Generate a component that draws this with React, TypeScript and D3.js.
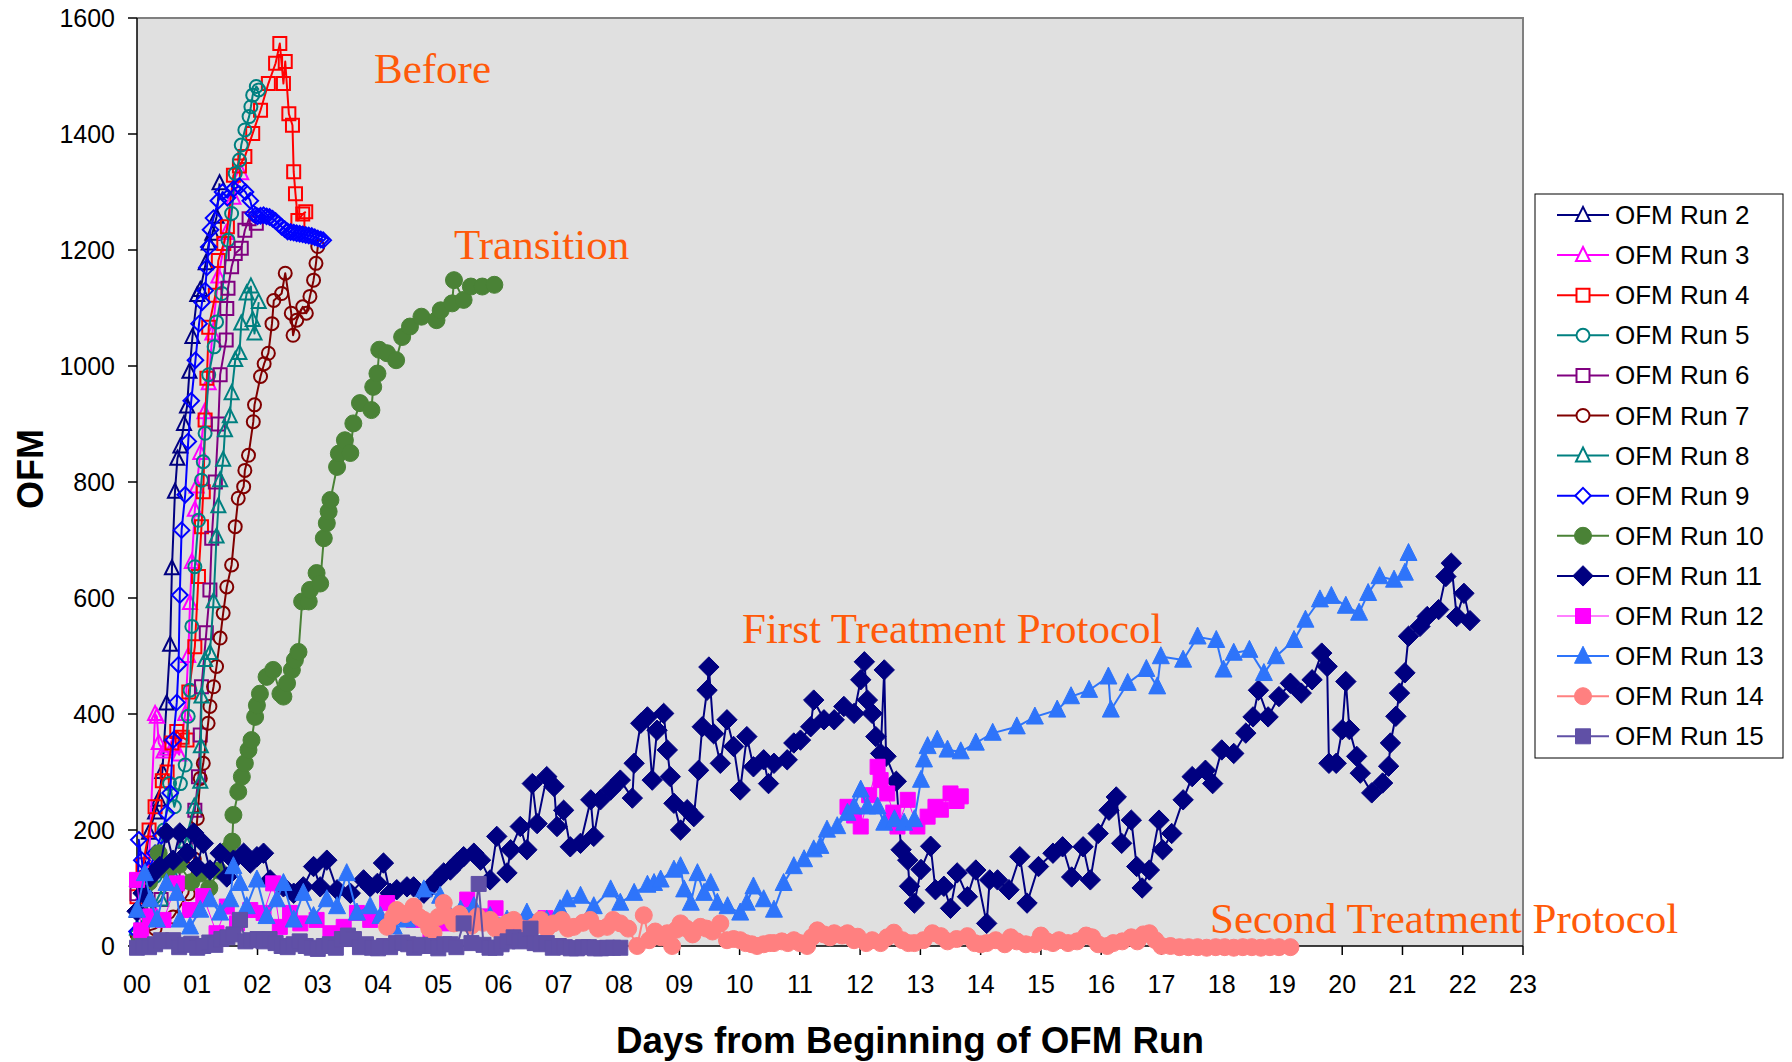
import * as d3 from "d3";
import React, { useEffect, useRef } from "react";

type Pt = [number, number];

const dayLabels = ["00","01","02","03","04","05","06","07","08","09","10","11","12","13","14","15","16","17","18","19","20","21","22","23"];
const ofmTicks = [0, 200, 400, 600, 800, 1000, 1200, 1400, 1600];

const run2: Pt[] = [[0,60],[0.1,120],[0.2,195],[0.3,230],[0.36,252],[0.42,300],[0.49,418],[0.55,519],[0.58,651],[0.63,783],[0.67,840],[0.72,861],[0.78,900],[0.83,930],[0.87,990],[0.92,1050],[1.0,1122],[1.05,1131],[1.14,1177],[1.19,1211],[1.25,1228],[1.32,1257],[1.37,1315]];
const run3: Pt[] = [[0,114],[0.1,90],[0.2,150],[0.3,400],[0.33,395],[0.36,350],[0.44,335],[0.5,340],[0.6,345],[0.7,330],[0.8,400],[0.85,500],[0.88,591],[0.91,662],[0.96,752],[0.99,792],[1.05,850],[1.12,920],[1.19,970],[1.25,1056],[1.35,1154],[1.48,1229],[1.6,1290],[1.73,1332]];
const run4: Pt[] = [[0,85],[0.1,140],[0.2,200],[0.3,240],[0.42,285],[0.5,300],[0.58,350],[0.66,370],[0.75,360],[0.83,355],[0.86,438],[0.96,516],[1.02,637],[1.07,723],[1.1,783],[1.13,907],[1.16,979],[1.19,1067],[1.3,1122],[1.35,1182],[1.44,1211],[1.5,1240],[1.6,1329],[1.7,1345],[1.79,1361],[1.92,1401],[2.05,1441],[2.18,1487],[2.3,1522],[2.37,1556],[2.43,1487],[2.46,1525],[2.52,1435],[2.58,1415],[2.6,1335],[2.63,1297],[2.67,1251],[2.75,1262],[2.8,1266]];
const run5: Pt[] = [[0,20],[0.15,60],[0.3,120],[0.45,200],[0.54,280],[0.62,240],[0.72,280],[0.8,312],[0.85,396],[0.88,441],[0.91,551],[0.96,654],[1.02,734],[1.07,803],[1.1,835],[1.13,884],[1.19,985],[1.28,1033],[1.32,1076],[1.41,1125],[1.51,1217],[1.57,1263],[1.63,1332],[1.7,1355],[1.73,1381],[1.79,1407],[1.86,1430],[1.89,1447],[1.92,1467],[1.98,1482],[2.02,1476]];
const run6: Pt[] = [[0,90],[0.2,60],[0.4,80],[0.6,130],[0.8,180],[0.96,234],[1.02,292],[1.05,364],[1.07,447],[1.15,540],[1.21,614],[1.24,703],[1.3,800],[1.35,900],[1.38,985],[1.48,1045],[1.49,1099],[1.51,1134],[1.57,1171],[1.63,1194],[1.73,1203],[1.79,1234],[1.86,1254],[1.98,1246]];
const run7: Pt[] = [[0,20],[0.3,30],[0.6,50],[0.85,90],[0.95,150],[1.0,220],[1.05,289],[1.1,315],[1.18,384],[1.21,413],[1.27,447],[1.32,482],[1.38,531],[1.43,574],[1.49,619],[1.57,657],[1.63,723],[1.68,772],[1.77,792],[1.79,820],[1.85,846],[1.93,904],[1.95,933],[2.05,982],[2.11,1004],[2.18,1022],[2.24,1073],[2.27,1113],[2.4,1125],[2.46,1160],[2.56,1091],[2.59,1053],[2.65,1079],[2.75,1102],[2.81,1091],[2.87,1120],[2.93,1148],[2.97,1177],[3.0,1206]];
const run8: Pt[] = [[0,30],[0.2,60],[0.4,80],[0.6,120],[0.8,180],[0.95,240],[1.05,283],[1.06,344],[1.07,430],[1.13,493],[1.21,505],[1.27,594],[1.32,706],[1.35,758],[1.38,803],[1.43,838],[1.46,889],[1.54,913],[1.57,953],[1.63,1010],[1.7,1022],[1.73,1073],[1.82,1125],[1.89,1137],[1.92,1079],[1.95,1056],[2.02,1110]];
const run9: Pt[] = [[0,25],[0.03,183],[0.08,148],[0.12,114],[0.2,130],[0.3,160],[0.4,190],[0.49,229],[0.55,264],[0.6,355],[0.66,420],[0.69,485],[0.71,605],[0.74,717],[0.8,778],[0.85,870],[0.9,940],[0.97,1010],[1.03,1073],[1.08,1110],[1.13,1130],[1.16,1170],[1.19,1205],[1.22,1235],[1.27,1255],[1.35,1285],[1.42,1300],[1.5,1290],[1.6,1305],[1.7,1310],[1.8,1300],[1.88,1285],[1.93,1263],[1.97,1260],[2.0,1258],[2.05,1259],[2.1,1260],[2.15,1258],[2.2,1257],[2.25,1254],[2.3,1250],[2.35,1245],[2.4,1240],[2.45,1236],[2.5,1232],[2.55,1231],[2.6,1230],[2.65,1229],[2.7,1228],[2.75,1227],[2.8,1226],[2.85,1225],[2.9,1224],[2.95,1222],[3.0,1220],[3.05,1218],[3.09,1217]];
const run10: Pt[] = [[0.05,10],[0.2,110],[0.36,160],[0.5,130],[0.7,140],[0.9,110],[1.05,125],[1.2,100],[1.35,130],[1.5,165],[1.58,180],[1.6,226],[1.68,266],[1.74,292],[1.79,315],[1.85,338],[1.9,355],[1.96,395],[1.99,415],[2.04,435],[2.15,464],[2.26,476],[2.38,435],[2.43,430],[2.49,453],[2.57,476],[2.62,493],[2.68,507],[2.74,594],[2.85,594],[2.87,614],[2.98,643],[3.04,625],[3.1,703],[3.15,729],[3.18,749],[3.21,769],[3.32,826],[3.35,849],[3.45,872],[3.54,850],[3.59,901],[3.7,936],[3.89,924],[3.92,964],[3.99,987],[4.02,1028],[4.15,1022],[4.3,1010],[4.4,1050],[4.53,1068],[4.72,1085],[4.97,1079],[5.04,1096],[5.23,1108],[5.26,1148],[5.42,1114],[5.54,1137],[5.73,1137],[5.93,1140]];
const run11: Pt[] = [[0,60],[0.1,91],[0.22,119],[0.38,137],[0.49,195],[0.6,148],[0.71,195],[0.83,160],[0.94,195],[0.99,137],[1.1,177],[1.21,131],[1.38,160],[1.49,119],[1.6,148],[1.77,160],[1.88,143],[1.99,154],[2.1,160],[2.21,114],[2.43,102],[2.6,91],[2.76,102],[2.93,137],[3.04,102],[3.15,148],[3.32,97],[3.54,91],[3.76,114],[3.87,102],[3.99,108],[4.09,143],[4.2,91],[4.31,97],[4.48,102],[4.59,102],[4.76,91],[4.87,102],[4.98,114],[5.09,126],[5.2,131],[5.31,143],[5.42,154],[5.59,160],[5.7,148],[5.86,114],[5.97,189],[6.14,126],[6.2,166],[6.36,206],[6.47,166],[6.56,280],[6.64,211],[6.8,292],[6.92,275],[6.97,206],[7.08,234],[7.19,171],[7.36,177],[7.53,252],[7.58,189],[7.69,252],[7.86,269],[8.02,286],[8.22,255],[8.25,315],[8.36,384],[8.47,395],[8.55,286],[8.63,372],[8.74,401],[8.8,338],[8.85,292],[8.91,246],[9.02,200],[9.13,235],[9.24,223],[9.32,303],[9.38,378],[9.46,441],[9.49,481],[9.57,366],[9.68,315],[9.79,390],[9.9,344],[10.01,269],[10.12,361],[10.23,309],[10.4,321],[10.48,280],[10.57,315],[10.79,321],[10.9,350],[11.01,355],[11.18,378],[11.23,424],[11.4,390],[11.57,390],[11.73,413],[11.9,401],[12.01,459],[12.07,490],[12.12,424],[12.2,401],[12.26,361],[12.34,332],[12.4,476],[12.43,327],[12.6,284],[12.68,166],[12.79,148],[12.82,103],[12.9,74],[13.01,132],[13.17,172],[13.25,97],[13.39,103],[13.5,65],[13.61,126],[13.78,85],[13.92,131],[14.1,39],[14.15,114],[14.28,114],[14.47,97],[14.65,154],[14.77,74],[14.96,137],[15.2,160],[15.36,171],[15.51,119],[15.7,171],[15.82,114],[15.95,194],[16.13,234],[16.25,257],[16.34,177],[16.5,217],[16.59,137],[16.68,100],[16.8,131],[16.96,217],[17.02,166],[17.17,194],[17.36,252],[17.51,292],[17.73,303],[17.85,280],[18.0,338],[18.2,332],[18.4,367],[18.52,395],[18.61,441],[18.77,395],[18.95,430],[19.14,453],[19.32,436],[19.5,459],[19.66,505],[19.75,482],[19.78,315],[19.9,315],[20.0,373],[20.06,456],[20.12,373],[20.24,327],[20.3,298],[20.49,264],[20.67,281],[20.77,310],[20.8,350],[20.89,396],[20.95,436],[21.04,471],[21.1,534],[21.29,551],[21.41,568],[21.6,580],[21.72,637],[21.81,660],[21.9,568],[22.02,608],[22.12,561]];
const run12: Pt[] = [[0,114],[0.07,27],[0.22,51],[0.44,45],[0.66,108],[0.88,62],[1.1,86],[1.32,22],[1.49,68],[1.66,39],[1.88,62],[2.1,57],[2.26,108],[2.37,33],[2.54,57],[2.71,39],[2.98,45],[3.21,22],[3.43,33],[3.65,57],[3.87,45],[4.15,74],[4.37,51],[4.59,45],[4.87,27],[5.09,39],[5.48,80],[5.75,51],[5.95,65],[6.2,40],[6.5,30],[6.78,48],[NaN,NaN],[11.79,240],[11.9,225],[12.01,206],[12.15,260],[12.29,309],[12.34,286],[12.45,263],[12.55,230],[12.62,206],[12.79,252],[12.95,206],[13.12,223],[13.25,240],[13.34,235],[13.5,263],[13.6,250],[13.67,258]];
const run13: Pt[] = [[0,62],[0.13,125],[0.22,80],[0.33,45],[0.49,108],[0.66,91],[0.71,45],[0.88,33],[1.05,62],[1.21,80],[1.38,57],[1.55,80],[1.6,137],[1.71,108],[1.82,68],[1.99,114],[2.15,51],[2.32,80],[2.43,108],[2.6,45],[2.76,91],[2.93,51],[3.15,80],[3.32,68],[3.48,125],[3.65,57],[3.87,68],[4.04,51],[4.26,33],[4.48,45],[4.76,97],[5.03,86],[5.2,51],[5.37,62],[5.59,68],[5.86,51],[6.14,45],[6.47,57],[6.8,45],[7.02,63],[7.14,80],[7.36,86],[7.58,68],[7.86,97],[8.02,74],[8.25,91],[8.47,105],[8.58,108],[8.69,114],[8.91,131],[9.02,137],[9.08,97],[9.19,74],[9.3,125],[9.41,91],[9.52,108],[9.63,74],[9.8,68],[10.01,57],[10.12,74],[10.23,102],[10.4,80],[10.57,62],[10.73,108],[10.9,137],[11.07,149],[11.23,166],[11.34,172],[11.45,200],[11.62,206],[11.79,229],[11.9,240],[12.01,269],[12.12,240],[12.29,240],[12.4,212],[12.57,218],[12.73,212],[12.9,218],[13.01,286],[13.06,321],[13.12,344],[13.28,355],[13.45,338],[13.67,335],[13.92,350],[14.2,367],[14.6,378],[14.9,395],[15.27,407],[15.5,430],[15.8,441],[16.12,464],[16.16,407],[16.44,453],[16.75,477],[16.93,447],[16.99,499],[17.36,493],[17.6,533],[17.91,527],[18.03,476],[18.2,505],[18.46,510],[18.7,470],[18.9,499],[19.2,527],[19.39,562],[19.63,597],[19.82,603],[20.06,586],[20.28,574],[20.43,608],[20.62,637],[20.86,631],[21.04,643],[21.1,677]];
const run14: Pt[] = [[4.15,33],[4.25,50],[4.31,62],[4.45,55],[4.59,68],[4.68,50],[4.76,45],[4.85,30],[4.92,22],[5.0,50],[5.09,74],[5.18,50],[5.26,39],[5.35,55],[5.42,45],[5.55,35],[5.65,51],[5.75,40],[5.86,45],[5.95,30],[6.03,33],[6.15,40],[6.25,45],[6.4,30],[6.58,33],[6.7,45],[6.8,30],[6.91,39],[7.05,45],[7.15,30],[7.25,33],[7.4,40],[7.52,45],[7.65,30],[7.8,33],[7.9,45],[8.02,39],[8.15,30],[8.3,0],[8.41,53],[8.5,10],[8.6,25],[8.7,15],[8.8,22],[8.88,0],[8.95,28],[9.02,39],[9.12,30],[9.22,20],[9.35,33],[9.45,30],[9.55,25],[9.68,39],[9.79,10],[9.9,12],[10.01,10],[10.1,5],[10.2,3],[10.29,0],[10.4,3],[10.5,5],[10.57,5],[10.7,8],[10.8,5],[10.9,10],[11.0,5],[11.12,0],[11.2,15],[11.29,27],[11.4,20],[11.5,15],[11.57,22],[11.7,18],[11.79,22],[11.9,10],[11.96,16],[12.1,5],[12.2,10],[12.34,5],[12.45,15],[12.56,23],[12.7,10],[12.8,5],[12.9,5],[13.05,10],[13.2,22],[13.34,17],[13.45,8],[13.6,12],[13.78,17],[13.9,5],[14.0,3],[14.1,5],[14.25,10],[14.4,3],[14.5,15],[14.6,8],[14.75,3],[14.9,3],[15.0,18],[15.1,8],[15.2,5],[15.3,10],[15.45,5],[15.6,8],[15.75,18],[15.85,15],[15.95,3],[16.1,0],[16.2,5],[16.35,8],[16.5,15],[16.6,8],[16.7,20],[16.8,22],[16.9,10],[17.0,0],[17.15,0],[17.3,-2],[17.45,-2],[17.6,-2],[17.75,-3],[17.9,-2],[18.05,-2],[18.2,-3],[18.35,-2],[18.5,-2],[18.65,-3],[18.8,-2],[18.95,-2],[19.14,-2]];
const run15: Pt[] = [[0,-3],[0.1,0],[0.2,-2],[0.3,3],[0.4,10],[0.5,8],[0.6,10],[0.7,-2],[0.8,2],[0.9,4],[1.0,-3],[1.1,0],[1.2,6],[1.3,2],[1.4,12],[1.5,15],[1.6,20],[1.71,45],[1.8,8],[1.9,10],[2.0,12],[2.1,8],[2.2,12],[2.3,5],[2.4,0],[2.5,-2],[2.6,3],[2.7,8],[2.8,0],[2.9,-3],[3.0,-5],[3.1,0],[3.2,3],[3.3,-3],[3.4,12],[3.5,18],[3.6,12],[3.7,-2],[3.8,3],[3.9,-3],[4.0,-4],[4.1,0],[4.2,-2],[4.3,5],[4.4,6],[4.5,3],[4.6,-3],[4.7,2],[4.8,0],[4.9,0],[5.0,-4],[5.1,3],[5.2,3],[5.3,-2],[5.42,39],[5.55,5],[5.67,107],[5.75,2],[5.85,-3],[5.95,-3],[6.05,3],[6.15,8],[6.25,15],[6.35,8],[6.45,10],[6.53,30],[6.6,5],[6.7,3],[6.8,5],[6.9,-3],[7.0,0],[7.1,-2],[7.2,-4],[7.3,-4],[7.4,-2],[7.5,-2],[7.6,-4],[7.7,-4],[7.8,-3],[7.9,-3],[8.02,-3]];

const seriesNames = ["OFM Run 2","OFM Run 3","OFM Run 4","OFM Run 5","OFM Run 6","OFM Run 7","OFM Run 8","OFM Run 9","OFM Run 10","OFM Run 11","OFM Run 12","OFM Run 13","OFM Run 14","OFM Run 15"];
const seriesData = [run2, run3, run4, run5, run6, run7, run8, run9, run10, run11, run12, run13, run14, run15];

// look of each series, same order as the names
const styles = [
  { color: "#000080", shape: "triangle", filled: false, size: 14, lw: 2 },
  { color: "#ff00ff", shape: "triangle", filled: false, size: 14, lw: 2 },
  { color: "#ff0000", shape: "square", filled: false, size: 13, lw: 2 },
  { color: "#008080", shape: "circle", filled: false, size: 13, lw: 2 },
  { color: "#800080", shape: "square", filled: false, size: 13, lw: 2 },
  { color: "#800000", shape: "circle", filled: false, size: 13, lw: 2 },
  { color: "#008080", shape: "triangle", filled: false, size: 14, lw: 2 },
  { color: "#0000ff", shape: "diamond", filled: false, size: 13, lw: 2 },
  { color: "#4a8236", shape: "circle", filled: true, size: 17, lw: 2 },
  { color: "#000080", shape: "diamond", filled: true, size: 17, lw: 2 },
  { color: "#ff00ff", shape: "square", filled: true, size: 15, lw: 1 },
  { color: "#2e74fa", shape: "triangle", filled: true, size: 17, lw: 2 },
  { color: "#ff8080", shape: "circle", filled: true, size: 17, lw: 2 },
  { color: "#6050a6", shape: "square", filled: true, size: 15, lw: 2 },
];

const notes = ["Before", "Transition", "First Treatment Protocol", "Second Treatment Protocol"];

function markerPath(shape: string, cx: number, cy: number, s: number) {
  const h = s / 2;
  if (shape === "triangle")
    return `M${cx},${cy - s * 0.58}L${cx + h},${cy + s * 0.42}L${cx - h},${cy + s * 0.42}Z`;
  if (shape === "square")
    return `M${cx - h},${cy - h}h${s}v${s}h${-s}Z`;
  if (shape === "diamond") {
    const d = s * 0.6;
    return `M${cx},${cy - d}L${cx + d},${cy}L${cx},${cy + d}L${cx - d},${cy}Z`;
  }
  return `M${cx - h},${cy}a${h},${h} 0 1,0 ${s},0a${h},${h} 0 1,0 ${-s},0Z`;
}

export default function App() {
  const ref = useRef<SVGSVGElement>(null);

  useEffect(() => {
    const width = 1792;
    const height = 1062;
    const plot = { left: 137, right: 1523, top: 18, bottom: 946 };
    const sans = "'Liberation Sans', Arial, sans-serif";
    const serif = "'Liberation Serif', 'Times New Roman', serif";

    const svg = d3.select(ref.current);
    svg.selectAll("*").remove();
    svg.attr("width", width).attr("height", height);

    const x = d3.scaleLinear().domain([0, 23]).range([plot.left, plot.right]);
    const y = d3.scaleLinear().domain([0, 1600]).range([plot.bottom, plot.top]);

    svg.append("rect").attr("width", width).attr("height", height).attr("fill", "#fff");
    svg
      .append("rect")
      .attr("x", plot.left)
      .attr("y", plot.top)
      .attr("width", plot.right - plot.left)
      .attr("height", plot.bottom - plot.top)
      .attr("fill", "#e0e0e0");
    // grey frame top and right
    svg
      .append("path")
      .attr("d", `M${plot.left},${plot.top}H${plot.right}V${plot.bottom}`)
      .attr("fill", "none")
      .attr("stroke", "#808080")
      .attr("stroke-width", 2);

    // axes
    const axes = svg.append("g").attr("stroke", "#000").attr("stroke-width", 1.5);
    axes.append("line").attr("x1", plot.left).attr("x2", plot.left).attr("y1", plot.top).attr("y2", plot.bottom);
    axes.append("line").attr("x1", plot.left).attr("x2", plot.right).attr("y1", plot.bottom).attr("y2", plot.bottom);
    ofmTicks.forEach((t) => {
      axes.append("line").attr("x1", plot.left - 9).attr("x2", plot.left).attr("y1", y(t)).attr("y2", y(t));
    });
    dayLabels.forEach((_, i) => {
      axes.append("line").attr("x1", x(i)).attr("x2", x(i)).attr("y1", plot.bottom).attr("y2", plot.bottom + 9);
    });

    const yLabels = svg.append("g").attr("font-family", sans).attr("font-size", 25).attr("text-anchor", "end");
    ofmTicks.forEach((t) => {
      yLabels.append("text").attr("x", 115).attr("y", y(t) + 9).text(t);
    });
    const xLabels = svg.append("g").attr("font-family", sans).attr("font-size", 25).attr("text-anchor", "middle");
    dayLabels.forEach((d, i) => {
      xLabels.append("text").attr("x", x(i)).attr("y", 993).text(d);
    });

    svg
      .append("text")
      .attr("x", 910)
      .attr("y", 1053)
      .attr("text-anchor", "middle")
      .attr("font-family", sans)
      .attr("font-weight", "bold")
      .attr("font-size", 36)
      .attr("textLength", 588)
      .attr("lengthAdjust", "spacingAndGlyphs")
      .text("Days from Beginning of OFM Run");
    svg
      .append("text")
      .attr("transform", "translate(43,469) rotate(-90)")
      .attr("text-anchor", "middle")
      .attr("font-family", sans)
      .attr("font-weight", "bold")
      .attr("font-size", 36)
      .text("OFM");

    // series
    const line = d3
      .line<Pt>()
      .defined((d) => !isNaN(d[0]))
      .x((d) => x(d[0]))
      .y((d) => y(d[1]));

    seriesData.forEach((data, i) => {
      const st = styles[i];
      const g = svg.append("g");
      g.append("path")
        .attr("d", line(data))
        .attr("fill", "none")
        .attr("stroke", st.color)
        .attr("stroke-width", st.lw)
        .attr("stroke-linejoin", "round");
      g.selectAll("path.m")
        .data(data.filter((d) => !isNaN(d[0])))
        .join("path")
        .attr("class", "m")
        .attr("d", (d) => markerPath(st.shape, x(d[0]), y(d[1]), st.size))
        .attr("fill", st.filled ? st.color : "none")
        .attr("stroke", st.color)
        .attr("stroke-width", st.filled ? 1 : 2);
    });

    // annotations
    const noteX = [374, 454, 742, 1210];
    const noteY = [83, 259, 643, 933];
    const ann = svg.append("g").attr("font-family", serif).attr("font-size", 43).attr("fill", "#ff5a0a");
    notes.forEach((n, i) => {
      ann.append("text").attr("x", noteX[i]).attr("y", noteY[i]).text(n);
    });

    // legend
    const legend = svg.append("g");
    legend
      .append("rect")
      .attr("x", 1535)
      .attr("y", 194)
      .attr("width", 248)
      .attr("height", 564)
      .attr("fill", "#fff")
      .attr("stroke", "#000")
      .attr("stroke-width", 1);
    seriesNames.forEach((name, i) => {
      const st = styles[i];
      const cy = 215 + i * 40.1;
      legend
        .append("line")
        .attr("x1", 1557)
        .attr("x2", 1609)
        .attr("y1", cy)
        .attr("y2", cy)
        .attr("stroke", st.color)
        .attr("stroke-width", st.lw);
      legend
        .append("path")
        .attr("d", markerPath(st.shape, 1583, cy, st.size))
        .attr("fill", st.filled ? st.color : "#fff")
        .attr("stroke", st.color)
        .attr("stroke-width", st.filled ? 1 : 2);
      legend
        .append("text")
        .attr("x", 1615)
        .attr("y", cy + 9)
        .attr("font-family", sans)
        .attr("font-size", 26)
        .text(name);
    });
  }, []);

  return (
    <div style={{ position: "absolute", left: 0, top: 0 }}>
      <svg ref={ref} style={{ display: "block" }}></svg>
    </div>
  );
}
